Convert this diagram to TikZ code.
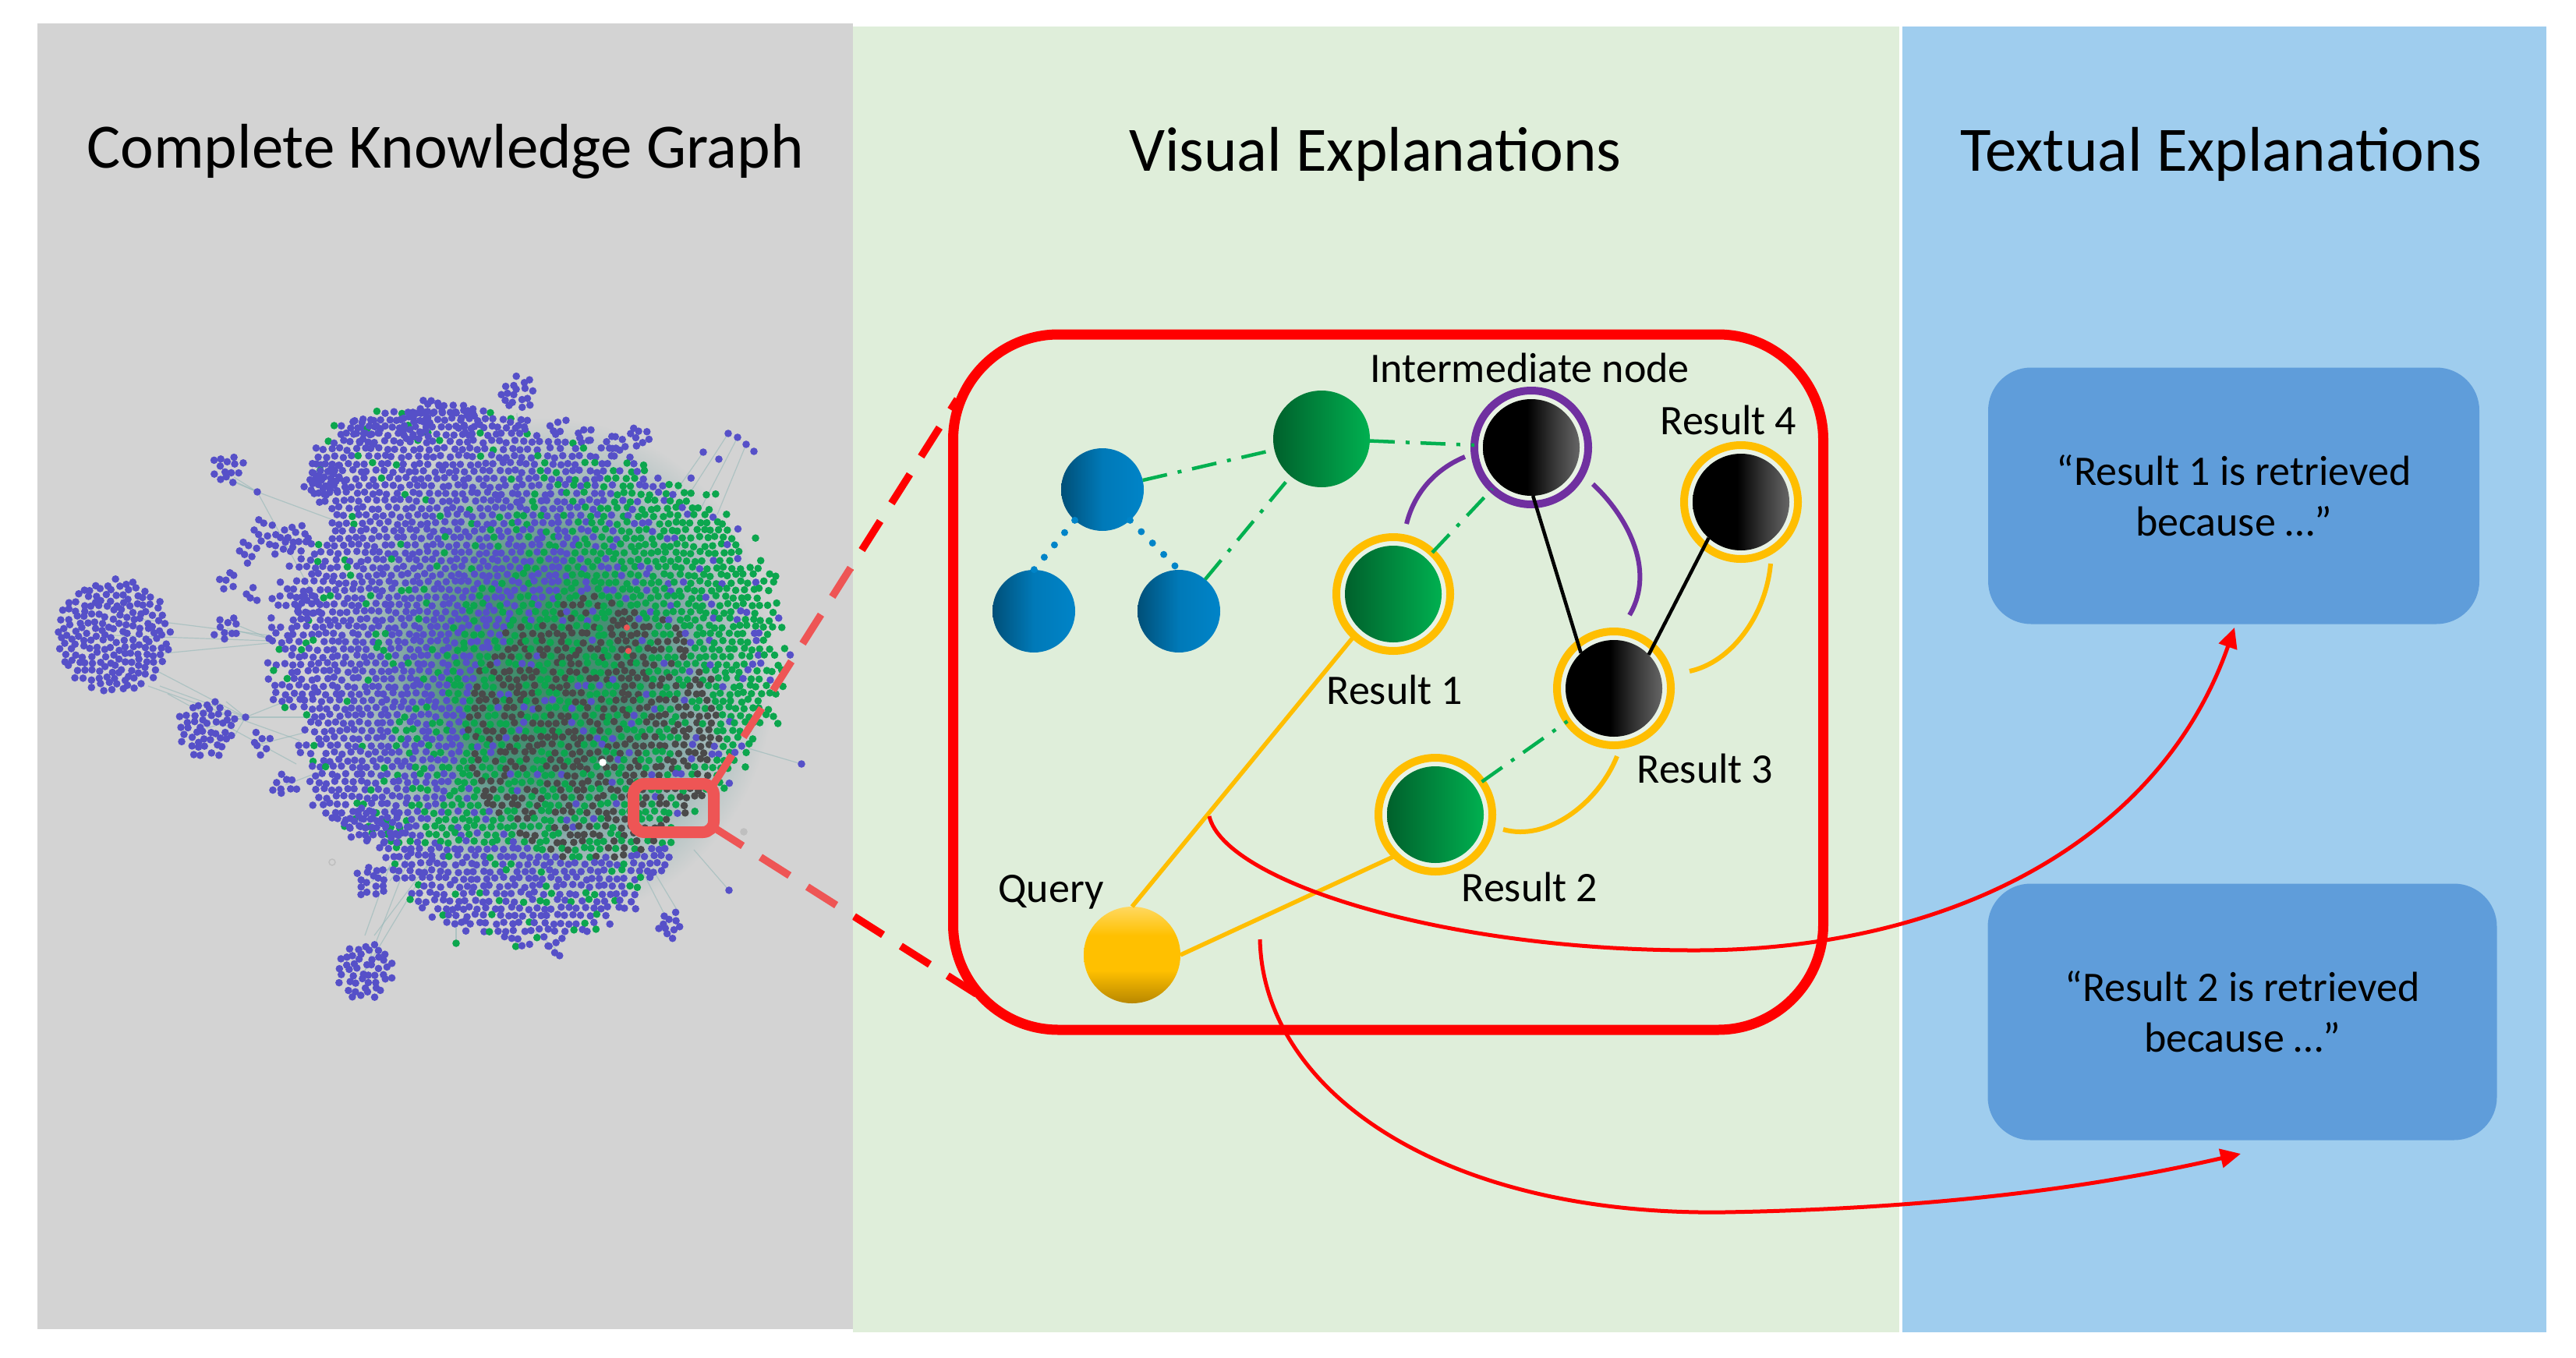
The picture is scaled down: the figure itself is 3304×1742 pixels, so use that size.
\documentclass[tikz,border=0pt]{standalone}
\usepackage{fontspec}
\setmainfont{Carlito}
\usetikzlibrary{arrows.meta,shapes.geometric}
\definecolor{panelgray}{HTML}{D3D3D3}
\definecolor{panelgreen}{HTML}{DFEEDA}
\definecolor{panelblue}{HTML}{9FCDEE}
\definecolor{boxblue}{HTML}{5F9DDA}
\definecolor{salmon}{HTML}{EE5555}
\definecolor{kgblue}{HTML}{5650C8}
\definecolor{kggreen}{HTML}{0CA64E}
\definecolor{kgdark}{HTML}{4A4A4A}
\definecolor{kgedge}{HTML}{8FB5B5}
\definecolor{ringorange}{HTML}{FFBE00}
\definecolor{ringpurple}{HTML}{7030A0}
\definecolor{dashgreen}{HTML}{00B050}
\definecolor{dotblue}{HTML}{0084C8}
\definecolor{hazea}{HTML}{3C8B66}
\definecolor{hazeb}{HTML}{4A9078}
\definecolor{hazec}{HTML}{86A9A8}
\definecolor{hazed}{HTML}{B5C4C4}
\definecolor{qtop}{HTML}{FFD860}
\definecolor{qmid}{HTML}{FFC000}
\definecolor{qbot}{HTML}{B88700}
\pgfdeclarehorizontalshading{blackshade}{100bp}{color(0bp)=(black);color(48bp)=(black);color(62bp)=(black!78!white);color(75bp)=(black!60!white);color(100bp)=(black!60!white)}
\pgfdeclareverticalshading{queryshade}{100bp}{color(0bp)=(qbot);color(25bp)=(qbot);color(42bp)=(qmid);color(60bp)=(qmid);color(75bp)=(qtop);color(100bp)=(qtop)}
\pgfdeclareradialshading{hazeshade}{\pgfpointorigin}{color(0bp)=(hazea);color(10bp)=(hazeb);color(16bp)=(hazec);color(21bp)=(hazed);color(25bp)=(panelgray);color(50bp)=(panelgray)}
\tikzset{
  title/.style={font=\fontsize{81}{96}\selectfont,inner sep=0pt},
  lab/.style={font=\fontsize{54}{62}\selectfont,inner sep=0pt},
  boxtext/.style={fill=boxblue,rounded corners=55pt,align=center,font=\fontsize{54}{65}\selectfont,inner sep=0pt},
  circ/.style={ellipse,inner sep=0pt,outer sep=0pt,minimum width=#1,minimum height=#1},
  bluenode/.style={circ=106pt,left color=black!40!dotblue,right color=dotblue,middle color=black!8!dotblue},
  greennode/.style={circ=124pt,left color=black!45!dashgreen,right color=dashgreen},
  blacknode/.style={circ=124pt,shading=blackshade},
  querynode/.style={circ=124pt,shading=queryshade},
  ring/.style={circ=146pt,draw=#1,line width=10pt,fill=panelgreen!70!white},
  dashdot/.style={draw=dashgreen,line width=4.5pt,dash pattern=on 32pt off 14pt on 5pt off 14pt},
  dotted blue/.style={draw=dotblue,line width=9pt,line cap=round,dash pattern=on 0pt off 20.5pt},
  solid black/.style={draw=black,line width=4.5pt},
  orange line/.style={draw=ringorange,line width=5.5pt},
  arc line/.style={line width=6pt},
  redcurve/.style={draw=red,line width=5pt,-{Triangle[length=26pt,width=24pt]}},
  callout/.style={line width=9.5pt,dash pattern=on 44pt off 27pt},
  kgline/.style={draw=kgedge,line width=1.2pt,opacity=.55},
}
\begin{document}
\begin{tikzpicture}[x=1pt,y=-1pt]
\useasboundingbox (0,0) rectangle (3304,1742);
\fill[white] (0,0) rectangle (3304,1742);
% panels
\fill[panelgray] (48,30) rectangle (1094,1705);
\fill[panelgreen] (1094,34) rectangle (2436,1709);
\fill[panelblue] (2440,34) rectangle (3266,1709);
% haze beneath the graph
\shade[shading=hazeshade] (700,860) ellipse (295 and 325);
% edges to satellites
\foreach \ax/\ay/\bx/\by in {146/790/345/815,146/815/345/822,190/840/345/825,200/860/315/920,205/880/315/920,215/890/380/980,190/880/385/950,315/920/400/920,315/920/390/890,
  265/934/315/920,275/915/315/920,290/900/315/920,300/945/315/920,292/615/330/631,300/612/330/631,285/610/330/631,330/631/430/668,330/631/400/760,291/806/345/819,300/800/345/819,
  468/1245/527/1094,468/1245/554/1102,480/1200/554/1102,468/1200/500/1110,476/1131/527/1094,490/1120/527/1094,500/1130/527/1094,
  663/530/667/640,667/550/672/630,859/1186/820/1110,870/1170/840/1120,935/1142/890/1090,1028/980/960/960,934/556/880/640,946/561/900/650,957/570/920/660,902/580/860/640,
  713/1217/680/1190,585/1210/585/1170,597/1181/590/1150,366/1007/410/990,335/954/390/940}{
  \draw[kgline] (\ax,\ay) -- (\bx,\by);
}
% main cloud
\pgfmathsetseed{4242}
\foreach \row in {0,...,76}{
 \foreach \colm in {0,...,66}{
  \pgfmathsetmacro\px{330+\colm*10.5+mod(\row,2)*5.25+(rnd-.5)*5}
  \pgfmathsetmacro\py{500+\row*9.5+(rnd-.5)*4}
  \pgfmathsetmacro\qa{(\px-677)/332}\pgfmathsetmacro\qb{(\py-833)/275}
  \pgfmathsetmacro\qc{(\px-677)/200}\pgfmathsetmacro\qd{(\py-1046)/168}
  \pgfmathsetmacro\qe{(\px-517)/126}\pgfmathsetmacro\qf{(\py-1001)/84}
  \pgfmathsetmacro\qg{(\px-557)/166}\pgfmathsetmacro\qh{(\py-608)/95}
  \pgfmathsetmacro\ee{min(min(\qa*\qa+\qb*\qb,\qc*\qc+\qd*\qd),min(\qe*\qe+\qf*\qf,\qg*\qg+\qh*\qh))}
  \pgfmathsetmacro\limv{.84+.22*rnd}
  \ifdim\ee pt<\limv pt
   \pgfmathsetmacro\rr{rnd}
   \pgfmathsetmacro\tv{\px-(800-.56*(\py-608))}
   \pgfmathsetmacro\qi{(\px-760)/165}\pgfmathsetmacro\qj{(\py-935)/170}
   \pgfmathsetmacro\dv{\qi*\qi+\qj*\qj}
   \def\gp{.07}
   \ifdim\tv pt>-110pt \def\gp{.3}\fi
   \ifdim\tv pt>0pt \def\gp{.68}\fi
   \ifdim\tv pt>80pt \def\gp{.87}\fi
   \ifdim\py pt>1085pt \def\gp{.1}\fi
   \def\dotc{kgblue}
   \ifdim\dv pt<1pt
     \ifdim\rr pt<.5pt \def\dotc{kgdark}\else\ifdim\rr pt<.92pt \def\dotc{kggreen}\fi\fi
   \else
     \ifdim\rr pt<\gp pt \def\dotc{kggreen}\fi
   \fi
   \fill[\dotc] (\px,\py) circle (4.8);
  \fi
 }
}
% satellite clusters and fringe lumps: cx/cy/n
\foreach \cx/\cy/\n in {146/816/190,265/934/48,292/600/14,291/806/10,335/954/7,366/1007/9,476/1131/16,468/1245/48,663/505/18,667/544/4,859/1186/11,713/1217/4,715/547/6,750/558/5,338/681/7,319/709/7,358/698/7,292/743/6,325/763/4,
  418/614/22,471/552/14,531/547/16,551/524/8,600/540/12,464/1057/18,504/1063/14,380/690/12,395/780/10,820/560/8,790/570/8}{
  \foreach \i in {1,...,\n}{
    \pgfmathsetmacro\ang{2*mod(\i*68.75,180)}
    \fill[kgblue] ({\cx+5.3*sqrt(\i)*cos(\ang)+(rnd-.5)*5},{\cy+5.3*sqrt(\i)*sin(\ang)+(rnd-.5)*5}) circle (4.8);
  }
}
% single dots
\foreach \x/\y in {934/556,946/561,957/570,967/579,902/580,922/589,1028/980,935/1142,554/1102,527/1094,587/1164,597/1181,330/631,345/819,315/920}{
  \fill[kgblue] (\x,\y) circle (4.8);
}
\fill[kggreen] (585,1210) circle (4.8);
\fill[white] (773,978) circle (4.8);
\fill[salmon] (804,805) circle (4);
\fill[salmon] (806,835) circle (4);
\draw[black!25,line width=1.5pt] (426,1106) circle (4);
\fill[black!25] (954,1067) circle (4.8);
% titles
\node[title] (t1) at (571,194) {Complete Knowledge Graph};
\node[title] (t2) at (1764,198) {Visual Explanations};
\node[title] (t3) at (2849,198) {Textual Explanations};
% frames
\node[line width=15pt,rounded corners=14pt,minimum width=103pt,minimum height=62pt,inner sep=0pt,outer sep=0pt] (smallbox) at (864,1036.5) {};
\node[draw=red,line width=13pt,rounded corners=135pt,minimum width=1116pt,minimum height=892pt,inner sep=0pt,outer sep=0pt] (bigbox) at (1780.5,875) {};
\coordinate (calloutTopEnd) at (1228,512);
\coordinate (calloutBotEnd) at (1257,1278);
\coordinate (calloutTopStart) at (smallbox.north east);
\coordinate (calloutBotStart) at ([yshift=6pt]smallbox.south east);
\begin{scope}
 \clip (0,0) rectangle (1094,1742);
 \draw[salmon,callout] (calloutTopStart) -- (calloutTopEnd);
 \draw[salmon,callout] (calloutBotStart) -- (calloutBotEnd);
\end{scope}
\begin{scope}
 \clip (1094,0) rectangle (3304,1742);
 \draw[red,callout] (calloutTopStart) -- (calloutTopEnd);
 \draw[red,callout] (calloutBotStart) -- (calloutBotEnd);
\end{scope}
\draw[salmon,line width=15pt,rounded corners=14pt] (smallbox.south west) rectangle (smallbox.north east);
% graph nodes
\node[bluenode] (bt) at (1414,628) {};
\node[bluenode] (bl) at (1326,784) {};
\node[bluenode] (br) at (1512,784) {};
\node[greennode] (gt) at (1695,563) {};
\node[ring=ringpurple] (imring) at (1964,574) {};
\node[blacknode] (im) at (1964,574) {};
\node[ring=ringorange] (r4ring) at (2233,644) {};
\node[blacknode] (r4) at (2233,644) {};
\node[ring=ringorange] (r1ring) at (1787,762) {};
\node[greennode] (r1) at (1787,762) {};
\node[ring=ringorange] (r3ring) at (2070,883) {};
\node[blacknode] (r3) at (2070,883) {};
\node[ring=ringorange] (r2ring) at (1841,1045) {};
\node[greennode] (r2) at (1841,1045) {};
\node[querynode] (q) at (1452,1225) {};
% connectors
\draw[dashdot] (bt) -- (gt);
\draw[dashdot] (gt) -- (imring);
\draw[dashdot] (br) -- (gt);
\draw[dashdot] (r1ring) -- (imring);
\draw[dashdot] (r2ring) -- (r3ring);
\draw[dotted blue] (bt.228) -- (bl.north);
\draw[dotted blue] (bt.312) -- (br.north);
\draw[solid black] (im.272) -- (r3.133);
\draw[solid black] (r4.228) -- (r3.44);
\draw[orange line] (q.north) -- (r1ring.227);
\draw[orange line] (q.east) -- (r2ring.226);
% arcs
\coordinate (pa1) at (1804,672);
\coordinate (pa2) at (1879,586);
\coordinate (pb1) at (2043,621);
\coordinate (pb2) at (2090,789);
\coordinate (oa1) at (2271,723);
\coordinate (oa2) at (2167,861);
\coordinate (ob1) at (2074,970);
\coordinate (ob2) at (1928,1064);
\draw[ringpurple,arc line] (pa1) .. controls (1815,628) and (1845,600) .. (pa2);
\draw[ringpurple,arc line] (pb1) .. controls (2085,660) and (2125,730) .. (pb2);
\draw[ringorange,arc line] (oa1) .. controls (2265,790) and (2220,850) .. (oa2);
\draw[ringorange,arc line] (ob1) .. controls (2050,1030) and (1985,1080) .. (ob2);
% labels
\node[lab] (li) at (1962,472) {Intermediate node};
\node[lab] (l4) at (2217,539) {Result 4};
\node[lab] (l1) at (1789,885) {Result 1};
\node[lab] (l3) at (2187,986) {Result 3};
\node[lab] (l2) at (1962,1138) {Result 2};
\node[lab] (lq) at (1348,1144) {Query};
% text boxes
\node[boxtext,minimum width=630pt,minimum height=329pt] (tb1) at (2865,636) {“Result 1 is retrieved\\because …”};
\node[boxtext,minimum width=653pt,minimum height=329pt] (tb2) at (2876,1298) {“Result 2 is retrieved\\because …”};
% red arrows
\coordinate (a1s) at (1551,1047);
\coordinate (a2s) at (1616,1205);
\coordinate (a1e) at (2866,805);
\coordinate (a2e) at (2874,1480);
\draw[redcurve] (a1s) .. controls (1570,1130) and (1850,1220) .. (2178,1219) .. controls (2500,1218) and (2770,1080) .. (a1e);
\draw[redcurve] (a2s) .. controls (1620,1400) and (1850,1560) .. (2212,1555) .. controls (2500,1550) and (2700,1520) .. (a2e);
\end{tikzpicture}
\end{document}
